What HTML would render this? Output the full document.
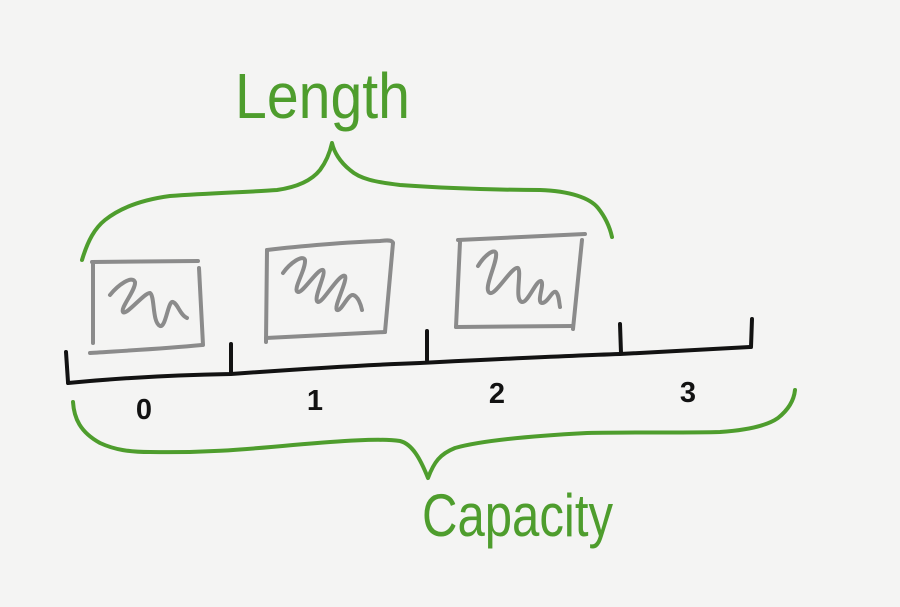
<!DOCTYPE html>
<html>
<head>
<meta charset="utf-8">
<style>
  html, body { margin: 0; padding: 0; background: #f4f4f3; }
  body { width: 900px; height: 607px; overflow: hidden; }
  svg { display: block; }
</style>
</head>
<body>
<svg width="900" height="607" viewBox="0 0 900 607" xmlns="http://www.w3.org/2000/svg">
  <rect x="0" y="0" width="900" height="607" fill="#f4f4f3"/>

  <!-- Length label -->
  <text x="235" y="118" font-family="Liberation Sans, sans-serif" font-size="64" fill="#4e9d2d" textLength="175" lengthAdjust="spacingAndGlyphs">Length</text>

  <!-- Length brace -->
  <path d="M82,260 C88,240 95,228 105,220 C120,208 140,200 170,196 C210,193 250,192 277,190 C298,187 312,180 320,170 C326,162 330,152 332,143 C334,152 340,162 350,170 C360,179 375,182 400,185 C440,188 500,190 540,190 C570,191 590,198 598,208 C606,218 610,228 612,237"
        fill="none" stroke="#4e9d2d" stroke-width="4" stroke-linecap="round" stroke-linejoin="round"/>

  <!-- Boxes -->
  <g fill="none" stroke="#8b8b8b" stroke-width="4" stroke-linecap="round" stroke-linejoin="round">
    <!-- box 1 -->
    <path d="M92,262 L198,261"/>
    <path d="M93,262 L93,343"/>
    <path d="M90,353 C120,351 160,349 202,345"/>
    <path d="M199,268 L203,345"/>
    <path d="M110,295 C118,285 132,275 135,282 C136,290 120,308 123,312 C126,316 145,292 150,293 C155,296 152,322 160,326 C166,328 168,300 173,302 C178,304 180,315 187,318"/>
    <!-- box 2 -->
    <path d="M267,250 C300,246 350,242 380,241 C388,240 392,240 393,243"/>
    <path d="M267,250 L266,342"/>
    <path d="M266,338 L385,332"/>
    <path d="M393,243 L385,332"/>
    <path d="M283,273 C290,263 303,254 305,260 C306,270 292,290 298,292 C303,293 318,268 323,270 C327,273 312,300 318,302 C322,304 340,272 345,276 C348,280 333,308 337,310 C341,312 348,294 353,295 C358,296 361,305 362,310"/>
    <!-- box 3 -->
    <path d="M458,240 L585,234"/>
    <path d="M460,242 L456,327"/>
    <path d="M456,327 L573,326"/>
    <path d="M582,240 L573,329"/>
    <path d="M478,266 C484,256 494,248 496,253 C498,262 482,290 490,293 C496,295 512,266 518,268 C522,272 514,300 522,302 C528,303 536,280 541,281 C545,284 536,302 542,303 C548,303 552,290 556,292 C559,295 559,302 560,307"/>
  </g>

  <!-- Axis -->
  <g fill="none" stroke="#121212" stroke-width="4" stroke-linecap="round" stroke-linejoin="round">
    <path d="M68,383 C120,378 170,375 231,374 C300,369 360,365 420,363 C500,359 560,356 620,354 C680,351 720,349 750,347"/>
    <path d="M66,352 L68,382"/>
    <path d="M231,344 L231,373"/>
    <path d="M427,331 L427,360"/>
    <path d="M620,324 L621,353"/>
    <path d="M752,319 L751,347"/>
  </g>

  <!-- Digits -->
  <g font-family="Liberation Sans, sans-serif" font-size="29" font-weight="bold" fill="#121212" text-anchor="middle">
    <text x="144" y="419">0</text>
    <text x="315" y="410">1</text>
    <text x="497" y="403">2</text>
    <text x="688" y="402">3</text>
  </g>

  <!-- Capacity brace -->
  <path d="M73,402 C74,418 80,432 100,443 C115,450 130,452 150,452 C200,453 240,450 293,445 C340,441 380,438 400,441 C412,444 420,458 428,478 C434,462 440,454 455,448 C480,441 530,436 587,433 C640,432 690,433 720,432 C750,430 768,425 778,418 C788,410 794,400 795,390"
        fill="none" stroke="#4e9d2d" stroke-width="4" stroke-linecap="round" stroke-linejoin="round"/>

  <!-- Capacity label -->
  <text x="422" y="536" font-family="Liberation Sans, sans-serif" font-size="60" fill="#4e9d2d" textLength="191" lengthAdjust="spacingAndGlyphs">Capacity</text>
</svg>
</body>
</html>
